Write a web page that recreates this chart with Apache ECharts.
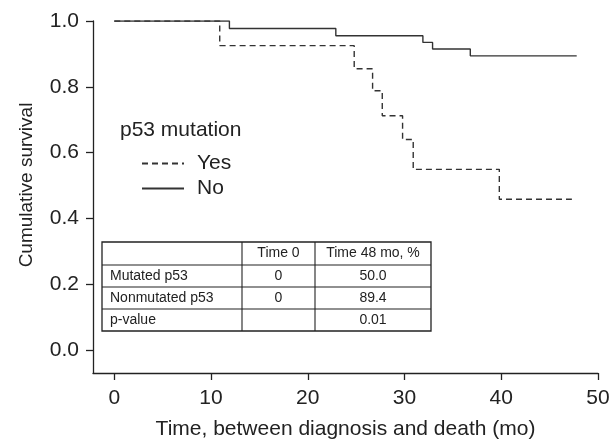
<!DOCTYPE html>
<html>
<head>
<meta charset="utf-8">
<script src="https://cdn.jsdelivr.net/npm/echarts@6/dist/echarts.min.js"></script>
<style>
  html, body { margin: 0; padding: 0; background: #fff; }
  #chart { width: 614px; height: 439px; }
</style>
</head>
<body>
<div id="chart"></div>
<script>
// survival curves (time in months, cumulative survival)
const yesTime = [0, 10.9, 24.8, 26.7, 27.7, 29.8, 30.9, 39.8, 47.3];
const yesSurv = [1.0, 0.925, 0.855, 0.788, 0.712, 0.640, 0.549, 0.458, 0.458];
const noTime = [0, 11.9, 22.9, 31.9, 32.9, 36.8, 47.8];
const noSurv = [1.0, 0.977, 0.955, 0.935, 0.915, 0.894, 0.894];

const xTicks = [0, 10, 20, 30, 40, 50];
const yTicks = [0, 0.2, 0.4, 0.6, 0.8, 1.0];

// inset table
const tableLabels = ['', 'Mutated p53', 'Nonmutated p53', 'p-value'];
const tableTime0 = ['Time 0', '0', '0', ''];
const tableTime48 = ['Time 48 mo, %', '50.0', '89.4', '0.01'];

const FONT = '"Liberation Sans", Arial, Helvetica, sans-serif';
const INK = '#222';

function pairs(xs, ys) {
  return xs.map((x, i) => [x, ys[i]]);
}

// table layout (pixels)
const colX = [102, 242, 315, 431];
const rowY = [242, 265, 287, 309, 331];

function buildTable() {
  const els = [];
  els.push({
    type: 'rect',
    shape: { x: colX[0], y: rowY[0], width: colX[3] - colX[0], height: rowY[4] - rowY[0] },
    style: { fill: '#fff', stroke: INK, lineWidth: 1.3 },
    z: 10,
  });
  for (let r = 1; r < rowY.length - 1; r++) {
    els.push({
      type: 'line',
      shape: { x1: colX[0], y1: rowY[r], x2: colX[3], y2: rowY[r] },
      style: { stroke: INK, lineWidth: 1.1 },
      z: 11,
    });
  }
  for (let c = 1; c < colX.length - 1; c++) {
    els.push({
      type: 'line',
      shape: { x1: colX[c], y1: rowY[0], x2: colX[c], y2: rowY[4] },
      style: { stroke: INK, lineWidth: 1.1 },
      z: 11,
    });
  }
  const textStyle = { fill: INK, fontSize: 14, fontFamily: FONT, verticalAlign: 'middle' };
  for (let r = 0; r < tableLabels.length; r++) {
    const cy = (rowY[r] + rowY[r + 1]) / 2;
    els.push({ type: 'text', x: colX[0] + 8, y: cy, z: 12,
      style: Object.assign({ text: tableLabels[r], align: 'left' }, textStyle) });
    els.push({ type: 'text', x: (colX[1] + colX[2]) / 2, y: cy, z: 12,
      style: Object.assign({ text: tableTime0[r], align: 'center' }, textStyle) });
    els.push({ type: 'text', x: (colX[2] + colX[3]) / 2, y: cy, z: 12,
      style: Object.assign({ text: tableTime48[r], align: 'center' }, textStyle) });
  }
  return els;
}

const chart = echarts.init(document.getElementById('chart'));

const option = {
  backgroundColor: '#fff',
  animation: false,
  textStyle: { fontFamily: FONT },
  title: {
    text: 'p53 mutation',
    left: 120,
    top: 120,
    padding: 0,
    textStyle: { fontSize: 21, fontWeight: 'normal', color: INK, fontFamily: FONT },
  },
  legend: {
    data: ['Yes', 'No'],
    orient: 'vertical',
    left: 141,
    top: 153,
    padding: 0,
    itemWidth: 42,
    itemHeight: 14,
    itemGap: 4,
    itemStyle: { opacity: 0 },
    textStyle: { fontSize: 21, color: INK, fontFamily: FONT, lineHeight: 18, padding: [0, 0, 0, 8] },
  },
  grid: { left: 93, right: 16, top: 21, bottom: 66, outerBoundsMode: 'none', containLabel: false },
  xAxis: {
    type: 'value',
    min: -2.2,
    max: 50,
    name: 'Time, between diagnosis and death (mo)',
    nameLocation: 'middle',
    nameGap: 46,
    nameTextStyle: { fontSize: 21, color: INK, fontFamily: FONT },
    axisLine: { show: true, onZero: false, lineStyle: { color: INK, width: 1.3 } },
    axisTick: { show: true, length: 7, customValues: xTicks, lineStyle: { color: INK, width: 1.3 } },
    axisLabel: { customValues: xTicks, fontSize: 21, color: INK, margin: 15, fontFamily: FONT },
    splitLine: { show: false },
  },
  yAxis: {
    type: 'value',
    min: -0.07,
    max: 1.0,
    name: 'Cumulative survival',
    nameLocation: 'middle',
    nameGap: 57,
    nameTextStyle: { fontSize: 19, color: INK, fontFamily: FONT, padding: [0, 0, 0, 24] },
    axisLine: { show: true, onZero: false, lineStyle: { color: INK, width: 1.3 } },
    axisTick: { show: true, length: 7, customValues: yTicks, lineStyle: { color: INK, width: 1.3 } },
    axisLabel: {
      customValues: yTicks, fontSize: 21, color: INK, margin: 14, fontFamily: FONT,
      formatter: (v) => v.toFixed(1),
    },
    splitLine: { show: false },
  },
  series: [
    {
      name: 'No',
      type: 'line',
      step: 'end',
      symbol: 'none',
      data: pairs(noTime, noSurv),
      lineStyle: { color: '#333', width: 1.4, type: 'solid' },
      itemStyle: { color: '#333' },
    },
    {
      name: 'Yes',
      type: 'line',
      step: 'end',
      symbol: 'none',
      data: pairs(yesTime, yesSurv),
      lineStyle: { color: '#333', width: 1.4, type: [6, 4] },
      itemStyle: { color: '#333' },
    },
  ],
  graphic: buildTable(),
};

chart.setOption(option);
</script>
</body>
</html>
